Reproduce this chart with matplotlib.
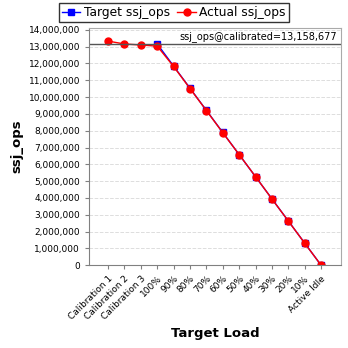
import matplotlib
matplotlib.use('Agg')
import matplotlib.pyplot as plt
from matplotlib.ticker import FuncFormatter

loads = ['Calibration 1', 'Calibration 2', 'Calibration 3', '100%', '90%', '80%',
         '70%', '60%', '50%', '40%', '30%', '20%', '10%', 'Active Idle']
calibrated = 13158677
target_ops = [None, None, None, 13158677, 11842809, 10526942, 9211074, 7895206,
              6579339, 5263471, 3947603, 2631735, 1315868, 0]
actual_ops = [13330000, 13160000, 13100000, 13030000, 11820000, 10510000, 9200000,
              7880000, 6580000, 5270000, 3940000, 2630000, 1310000, 0]

fig = plt.figure(figsize=(3.48, 3.48), dpi=100)
ax = fig.add_axes([0.256, 0.238, 0.724, 0.682])

x = list(range(len(loads)))
tx = [i for i, v in zip(x, target_ops) if v is not None]
ty = [v for v in target_ops if v is not None]
ax.plot(tx, ty, color='blue', marker='s', markersize=4.5, linewidth=1, label='Target ssj_ops')
ax.plot(x, actual_ops, color='red', marker='o', markersize=5, linewidth=1, label='Actual ssj_ops')

ax.axhline(calibrated, color='#555555', linewidth=1)
ax.text(13.95, calibrated + 120000, 'ssj_ops@calibrated=13,158,677', ha='right', va='bottom',
        fontsize=7)

ax.set_xlim(-1.16, 14.22)
ax.set_ylim(0, 14120000)
ax.set_yticks(range(0, 14000001, 1000000))
ax.yaxis.set_major_formatter(FuncFormatter(lambda v, p: '{:,.0f}'.format(v)))
ax.set_xticks(x)
ax.set_xticklabels(loads, rotation=45, ha='right', rotation_mode='anchor', fontsize=6.5)
ax.tick_params(axis='y', labelsize=6.5, length=3, color='gray')
ax.tick_params(axis='x', length=3, color='gray')
ax.grid(axis='y', color='#dddddd', linestyle='--', linewidth=0.7)
ax.set_axisbelow(True)
for s in ax.spines.values():
    s.set_color('#aaaaaa')
ax.spines['left'].set_color('gray')
ax.spines['bottom'].set_color('gray')

ax.set_xlabel('Target Load', fontsize=9.5, fontweight='bold')
ax.set_ylabel('ssj_ops', fontsize=9.5, fontweight='bold')

fig.legend(loc='upper center', bbox_to_anchor=(0.5, 1.008), ncol=2, fontsize=8.8,
           frameon=True, fancybox=False, edgecolor='black', handlelength=1.5,
           handletextpad=0.3, columnspacing=0.6, borderpad=0.25)

fig.savefig('out.png', dpi=100)
